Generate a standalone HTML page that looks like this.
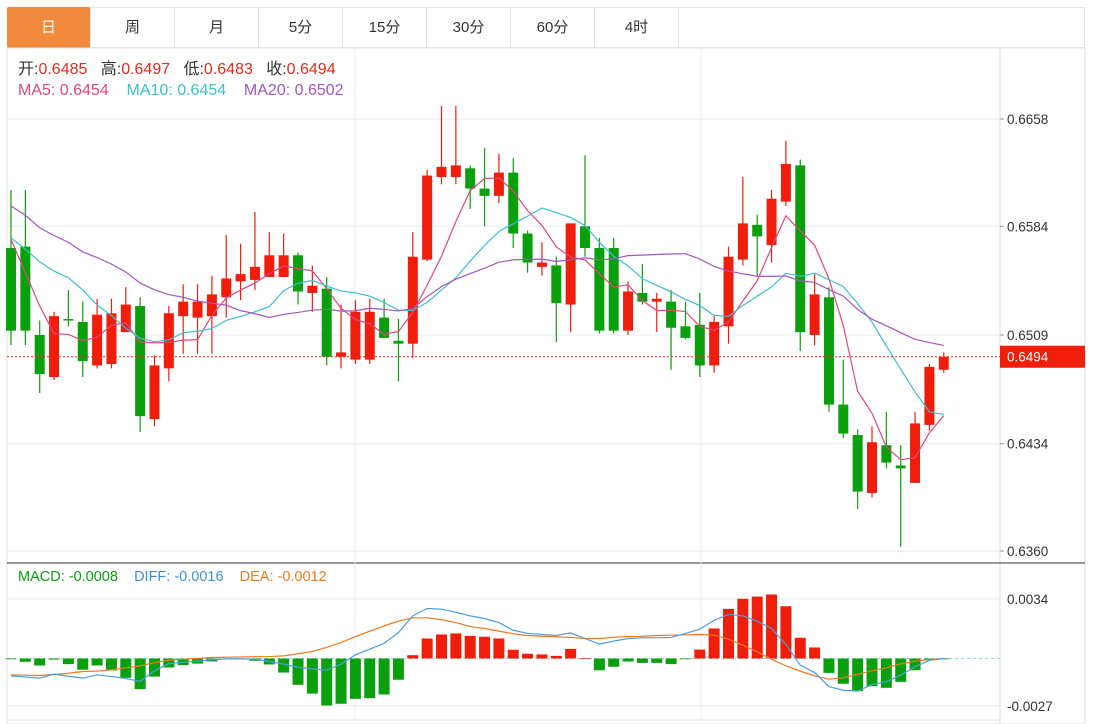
<!DOCTYPE html>
<html><head><meta charset="utf-8">
<style>
body{margin:0;background:#fff;width:1102px;height:724px;overflow:hidden;font-family:"Liberation Sans","Noto Sans CJK SC",sans-serif;}
#wrap{position:absolute;left:0;top:0;width:1102px;height:724px;}
.tab{position:absolute;top:7px;height:41px;width:84px;border-right:1px solid #e3e3e3;text-align:center;line-height:41px;font-size:15px;color:#333;box-sizing:border-box;}
.hdr{position:absolute;font-size:16px;line-height:18px;white-space:nowrap;}
</style></head><body>
<div id="wrap">
<div style="position:absolute;left:7px;top:7px;width:1078px;height:41px;border:1px solid #e3e3e3;box-sizing:border-box;"></div>
<div class="tab" style="left:7px;background:#f28a3e;color:#fff;border-radius:2px;">日</div>
<div class="tab" style="left:91px">周</div>
<div class="tab" style="left:175px">月</div>
<div class="tab" style="left:259px">5分</div>
<div class="tab" style="left:343px">15分</div>
<div class="tab" style="left:427px">30分</div>
<div class="tab" style="left:511px">60分</div>
<div class="tab" style="left:595px">4时</div>
<svg id="svg" width="1102" height="724" style="position:absolute;left:0;top:0"></svg>
<div class="hdr" style="left:18px;top:61px;color:#333">开:<span style="color:#e8281a">0.6485</span>&nbsp;&nbsp; 高:<span style="color:#e8281a">0.6497</span>&nbsp;&nbsp; 低:<span style="color:#e8281a">0.6483</span>&nbsp;&nbsp; 收:<span style="color:#e8281a">0.6494</span></div>
<div class="hdr" style="left:18px;top:82px"><span style="color:#e0457f">MA5: 0.6454</span>&nbsp;&nbsp;&nbsp; <span style="color:#3cc0d0">MA10: 0.6454</span>&nbsp;&nbsp;&nbsp; <span style="color:#a555c0">MA20: 0.6502</span></div>
<div class="hdr" style="left:18px;top:568px;font-size:14.5px"><span style="color:#0a9f0c">MACD: -0.0008</span>&nbsp;&nbsp;&nbsp; <span style="color:#3c8fdc">DIFF: -0.0016</span>&nbsp;&nbsp;&nbsp; <span style="color:#f07a20">DEA: -0.0012</span></div>
</div>
<script>
const opens=[0.6569,0.6570,0.6509,0.6480,0.6520,0.6518,0.6488,0.6489,0.6511,0.6529,0.6451,0.6486,0.6522,0.6521,0.6522,0.6535,0.6546,0.6547,0.6549,0.6549,0.6564,0.6538,0.6541,0.6494,0.6492,0.6492,0.6521,0.6505,0.6503,0.6561,0.6618,0.6618,0.6624,0.6610,0.6605,0.6621,0.6579,0.6556,0.6557,0.6530,0.6584,0.6569,0.6569,0.6512,0.6538,0.6532,0.6532,0.6515,0.6516,0.6488,0.6515,0.6561,0.6585,0.6571,0.6601,0.6626,0.6509,0.6535,0.6461,0.6440,0.6400,0.6433,0.6419,0.6407,0.6447,0.6485];
const highs=[0.6609,0.6609,0.6519,0.6525,0.6540,0.6532,0.6534,0.6534,0.6542,0.6535,0.6495,0.6529,0.6544,0.6544,0.6550,0.6578,0.6572,0.6594,0.6580,0.6579,0.6566,0.6557,0.6549,0.6530,0.6533,0.6534,0.6534,0.6520,0.6580,0.6623,0.6667,0.6667,0.6626,0.6638,0.6634,0.6631,0.6581,0.6573,0.6563,0.6586,0.6633,0.6576,0.6576,0.6546,0.6558,0.6538,0.6540,0.6532,0.6538,0.6522,0.6570,0.6618,0.6592,0.6609,0.6643,0.6630,0.6551,0.6542,0.6492,0.6444,0.6446,0.6456,0.6433,0.6456,0.6489,0.6497];
const lows=[0.6502,0.6502,0.6469,0.6478,0.6515,0.6480,0.6486,0.6486,0.6511,0.6442,0.6446,0.6477,0.6496,0.6496,0.6496,0.6521,0.6533,0.6540,0.6549,0.6549,0.6530,0.6525,0.6488,0.6486,0.6489,0.6489,0.6507,0.6477,0.6493,0.6560,0.6613,0.6613,0.6596,0.6584,0.6600,0.6569,0.6552,0.6550,0.6504,0.6511,0.6563,0.6510,0.6510,0.6509,0.6530,0.6511,0.6485,0.6506,0.6480,0.6483,0.6503,0.6557,0.6550,0.6559,0.6598,0.6498,0.6502,0.6456,0.6438,0.6389,0.6397,0.6417,0.6363,0.6407,0.6443,0.6483];
const closes=[0.6512,0.6512,0.6482,0.6522,0.6519,0.6491,0.6523,0.6524,0.6530,0.6453,0.6488,0.6524,0.6532,0.6532,0.6537,0.6548,0.6551,0.6556,0.6564,0.6564,0.6539,0.6543,0.6494,0.6497,0.6525,0.6525,0.6507,0.6503,0.6563,0.6619,0.6625,0.6626,0.6610,0.6605,0.6621,0.6579,0.6559,0.6559,0.6531,0.6586,0.6569,0.6512,0.6512,0.6539,0.6532,0.6534,0.6514,0.6507,0.6488,0.6518,0.6563,0.6586,0.6577,0.6603,0.6627,0.6511,0.6537,0.6461,0.6441,0.6401,0.6435,0.6421,0.6417,0.6448,0.6487,0.6494];
const priorCloses=[0.6640,0.6655,0.6630,0.6610,0.6625,0.6600,0.6615,0.6640,0.6605,0.6580,0.6590,0.6570,0.6585,0.6565,0.6575,0.6627,0.6597,0.6617,0.6522];
const priceTicks=[0.6658,0.6584,0.6509,0.6434,0.6360];
const lastPrice=0.6494;
const macdHist=[-0.00003,-0.00019,-0.0004,-0.00006,-0.00032,-0.00064,-0.0004,-0.00068,-0.0011,-0.00175,-0.00103,-0.00051,-0.00038,-0.00029,-0.00017,-0.00004,-0.00004,-0.00013,-0.00034,-0.0008,-0.0015,-0.002,-0.00268,-0.00258,-0.0023,-0.00226,-0.00205,-0.00121,0.00019,0.00114,0.00137,0.00143,0.00129,0.00124,0.00114,0.0005,0.00027,0.00023,0.00015,0.00055,0.00001,-0.00067,-0.00047,-0.00017,-0.00025,-0.00025,-0.00032,-0.00001,0.00051,0.00171,0.00283,0.0034,0.00353,0.00365,0.00298,0.00118,0.00063,-0.00082,-0.00144,-0.00186,-0.00158,-0.00167,-0.00133,-0.00067,-0.00006,-0.00001];
const diff=[-0.00099,-0.00105,-0.00112,-0.00089,-0.00101,-0.00112,-0.00093,-0.00103,-0.00114,-0.00131,-0.0007,-0.0003,-0.00021,-0.00015,-0.00007,-0.00002,-0.00002,-0.00004,-0.00017,-0.00032,-0.00051,-0.00059,-0.00067,-0.00032,0.00021,0.00053,0.00087,0.00148,0.00243,0.00285,0.00281,0.00264,0.00243,0.00228,0.00205,0.00161,0.00143,0.00137,0.00131,0.00146,0.00114,0.00082,0.00099,0.00114,0.00118,0.00118,0.0012,0.00143,0.00167,0.00218,0.00251,0.00243,0.00213,0.00171,0.0008,-0.00038,-0.0008,-0.0016,-0.00181,-0.00186,-0.00148,-0.00133,-0.00095,-0.00047,-0.00011,0];
const dea=[-0.00093,-0.00095,-0.00097,-0.00091,-0.00084,-0.00074,-0.00072,-0.00064,-0.00053,-0.00042,-0.00023,-0.0001,-0.00004,0,0.00006,0.00007,0.00009,0.0001,0.00011,0.00015,0.00027,0.0004,0.00064,0.00091,0.00125,0.00156,0.00186,0.00213,0.00232,0.00232,0.00221,0.00205,0.00182,0.00171,0.00156,0.00141,0.00131,0.00127,0.00124,0.0012,0.00114,0.00114,0.00121,0.00125,0.00127,0.00131,0.00133,0.00135,0.00137,0.00133,0.0011,0.00076,0.00038,-0.00004,-0.00042,-0.00072,-0.00099,-0.00118,-0.0011,-0.00091,-0.0007,-0.00053,-0.0003,-0.00015,-0.00006,0];
const macdTicks=[0.0034,-0.0027];

const NS='http://www.w3.org/2000/svg';
const svg=document.getElementById('svg');
function mk(tag,attrs,parent){const e=document.createElementNS(NS,tag);for(const k in attrs)e.setAttribute(k,attrs[k]);(parent||svg).appendChild(e);return e;}
const X0=11,DX=14.35;
const xs=i=>X0+i*DX;
const py=v=>119+(0.6658-v)/(0.6658-0.6360)*432;
const my=v=>658.5-v/0.000057;
const RED='#f01d0b',GREEN='#0a9f0c';

let e;
e=mk('rect',{x:7,y:48,width:1078,height:676,fill:'none',stroke:'#e3e3e3'});


e=mk('line',{x1:1000,y1:48,x2:1000,y2:724,stroke:'#d8d8d8'});


e=mk('line',{x1:7,y1:563,x2:1085,y2:563,stroke:'#333'});


e=mk('line',{x1:7,y1:720,x2:1000,y2:720,stroke:'#e3e3e3'});


[355,701].forEach(x=>{
  const g=mk('line',{x1:x,y1:48,x2:x,y2:720,stroke:'#e6edf3'});
  
  
});
priceTicks.forEach(t=>{
  const y=py(t);
  const g=mk('line',{x1:7,y1:y,x2:1000,y2:y,stroke:'#e6edf3'});
  
  
  mk('line',{x1:1000,y1:y,x2:1004,y2:y,stroke:'#999'});
  const t2=mk('text',{x:1007,y:y+5,'font-size':13.5,fill:'#333','font-family':'Liberation Sans, sans-serif'});
  t2.textContent=t.toFixed(4);
  
  
});
macdTicks.forEach(t=>{
  const y=my(t);
  const g=mk('line',{x1:7,y1:y,x2:1000,y2:y,stroke:'#e6edf3'});
  
  
  const t2=mk('text',{x:1007,y:y+5,'font-size':13.5,fill:'#333','font-family':'Liberation Sans, sans-serif'});
  t2.textContent=t.toFixed(4);
  
  
});
e=mk('line',{x1:7,y1:my(0),x2:1000,y2:my(0),stroke:'#9fd3e0','stroke-dasharray':'3,3'});



closes.forEach((c,i)=>{
  const o=opens[i],up=c>=o,col=up?RED:GREEN,x=xs(i);
  const w=mk('line',{x1:x,y1:py(highs[i]),x2:x,y2:py(lows[i]),stroke:col,'stroke-width':1.2});
  
  
  const top=py(Math.max(o,c)),bot=py(Math.min(o,c));
  const r=mk('rect',{x:x-5,y:top,width:10,height:Math.max(bot-top,1.5),fill:col});
  
  
});
const all=priorCloses.concat(closes),P=priorCloses.length;
function ma(n){return closes.map((_,i)=>{let s=0;for(let k=0;k<n;k++)s+=all[P+i-k];return s/n;});}
[[5,'#e0457f','ma5-line'],[10,'#3cc0d0','ma10-line'],[20,'#a555c0','ma20-line']].forEach(([n,col,name])=>{
  const v=ma(n);
  const l=mk('polyline',{points:v.map((a,i)=>xs(i)+','+py(a)).join(' '),fill:'none',stroke:col,'stroke-width':1.2});
  
  
});
const ly=py(lastPrice);
e=mk('line',{x1:7,y1:ly,x2:1000,y2:ly,stroke:'#e8281a','stroke-dasharray':'2,2'});


e=mk('rect',{x:1000,y:ly-11,width:85,height:22,fill:'#f01d0b'});


e=mk('text',{x:1007,y:ly+5,'font-size':13.5,fill:'#fff','font-family':'Liberation Sans, sans-serif'});
e.textContent=lastPrice.toFixed(4);


macdHist.forEach((v,i)=>{
  const y0=my(0),y1=my(v);
  const b=mk('rect',{x:xs(i)-5.5,y:Math.min(y0,y1),width:11,height:Math.max(Math.abs(y1-y0),0.8),fill:v>=0?RED:GREEN});
  
  
});
e=mk('polyline',{points:dea.map((v,i)=>xs(i)+','+my(v)).join(' '),fill:'none',stroke:'#f07a20','stroke-width':1.2});


e=mk('polyline',{points:diff.map((v,i)=>xs(i)+','+my(v)).join(' '),fill:'none',stroke:'#4a9fe0','stroke-width':1.2});


</script>
</body></html>
